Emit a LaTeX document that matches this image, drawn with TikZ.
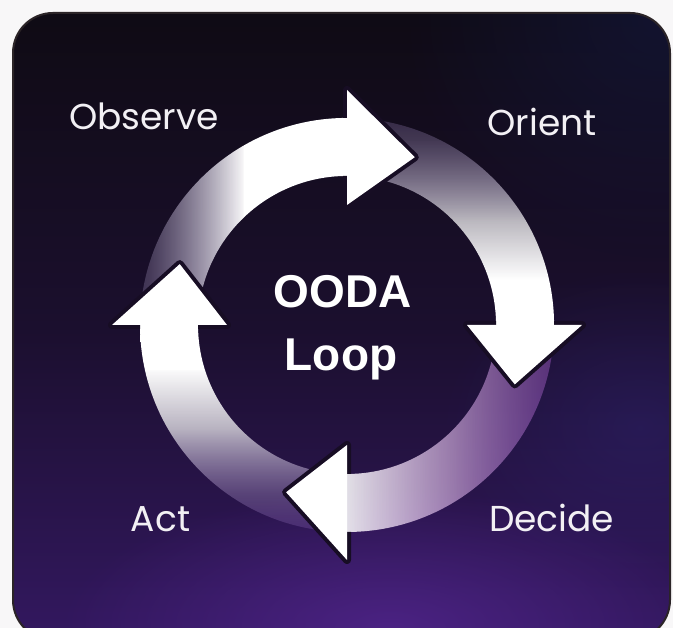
\documentclass[tikz,border=0pt]{standalone}
\usepackage{fontspec}
\usetikzlibrary{fadings}
\newfontfamily\lblfont{Poppins}
\newfontfamily\ttlfont{Liberation Sans}
\definecolor{pagec}{HTML}{F8F7F8}
\definecolor{borderc}{HTML}{2B2427}
\definecolor{bgTop}{HTML}{0F0B14}
\definecolor{bgMid}{HTML}{1B0F2E}
\definecolor{bgBot}{HTML}{331860}
\definecolor{glowc}{HTML}{5C2A9C}
\definecolor{navyc}{HTML}{151A44}
\definecolor{bluec}{HTML}{2E2470}
\definecolor{holec}{HTML}{170D24}
\definecolor{lavA}{HTML}{A898C4}
\definecolor{lavB}{HTML}{9C84C0}
\definecolor{magB}{HTML}{A85CCC}
\definecolor{midB}{HTML}{DDB8E8}
\definecolor{purL}{HTML}{8A64B8}
\definecolor{labelc}{HTML}{F2F0F4}

\tikzfading[name=radglow, inner color=transparent!0, outer color=transparent!100]

\begin{tikzfadingfrompicture}[name=fadeTop]
  \shade[left color=transparent!96, right color=transparent!70] (-50bp,-50bp) rectangle (-22bp,50bp);
  \shade[left color=transparent!70, right color=transparent!0] (-22.5bp,-50bp) rectangle (1bp,50bp);
  \fill[transparent!0] (0bp,-50bp) rectangle (50bp,50bp);
\end{tikzfadingfrompicture}
\begin{tikzfadingfrompicture}[name=fadeRight]
  \fill[transparent!0] (-50bp,-50bp) rectangle (50bp,-13bp);
  \shade[bottom color=transparent!0, top color=transparent!70] (-50bp,-14bp) rectangle (50bp,20bp);
  \shade[bottom color=transparent!70, top color=transparent!95] (-50bp,19.5bp) rectangle (50bp,50bp);
\end{tikzfadingfrompicture}
\begin{tikzfadingfrompicture}[name=fadeBottom]
  \fill[transparent!0] (-50bp,-50bp) rectangle (-39bp,50bp);
  \shade[left color=transparent!0, right color=transparent!82] (-40bp,-50bp) rectangle (50bp,50bp);
\end{tikzfadingfrompicture}
\begin{tikzfadingfrompicture}[name=fadeLeft]
  \shade[bottom color=transparent!95, top color=transparent!65] (-50bp,-50bp) rectangle (50bp,-15bp);
  \shade[bottom color=transparent!65, top color=transparent!0] (-50bp,-15.5bp) rectangle (50bp,15bp);
  \fill[transparent!0] (-50bp,14bp) rectangle (50bp,50bp);
\end{tikzfadingfrompicture}

\newcommand\oodahead[3]{% base angle, tip angle, tip radius
  \draw[headline] (#1:207) -- (#1:235) -- (#2:#3) -- (#1:120) -- (#1:149);
  \fill[headfill] (#1:120) -- (#1:235) -- (#2:#3) -- cycle;}
\newcommand\oodabody[2]{% start angle, end angle
  (#1:207) arc[start angle=#1, end angle=#2, radius=207] -- (#2:149) arc[start angle=#2, end angle=#1, radius=149] -- cycle}

\begin{document}
\begin{tikzpicture}[x=1pt,y=1pt,
  lbl/.style={text=labelc, font=\lblfont\fontsize{36}{40}\selectfont, anchor=base, inner sep=0pt},
  ttl/.style={text=white, font=\ttlfont\bfseries\fontsize{46}{50}\selectfont, anchor=base, inner sep=0pt},
  headline/.style={draw=holec, line width=8pt, line join=round},
  headfill/.style={fill=white},
  card/.style={rounded corners=40pt}]
\useasboundingbox (0,0) rectangle (673,628);
\clip (0,0) rectangle (673,628);
\fill[pagec] (0,0) rectangle (673,628);
% card background
\begin{scope}
  \clip[card] (13,-12) rectangle (670,615);
  \shade[top color=bgTop, bottom color=bgBot, middle color=bgMid] (13,-12) rectangle (670,615);
  \fill[navyc, path fading=radglow, fill opacity=.55] (660,610) ellipse [x radius=260, y radius=240];
  \fill[bluec, path fading=radglow, fill opacity=.45] (640,200) ellipse [x radius=200, y radius=160];
  \fill[glowc, path fading=radglow, fill opacity=.6] (390,0) ellipse [x radius=330, y radius=140];
\end{scope}
\draw[borderc, line width=2pt, card] (13,-12) rectangle (670,615);
% arrows
\begin{scope}[shift={(347,303)}]
  \shade[path fading=fadeTop, left color=lavA, right color=white, middle color=white] \oodabody{178}{90};
  \shade[path fading=fadeRight, top color=lavB, bottom color=white, middle color=white] \oodabody{88}{0};
  \shade[path fading=fadeBottom, left color=white, right color=magB, middle color=midB] \oodabody{-2}{-90};
  \shade[path fading=fadeLeft, bottom color=purL, top color=white, middle color=white] \oodabody{-92}{-180};
  \oodahead{90}{68}{181}
  \oodahead{0}{-19.5}{178}
  \oodahead{-90}{-110}{178}
  \oodahead{180}{160}{178}
\end{scope}
% labels
\node[lbl] (observe) at (144,498.5) {Observe};
\node[lbl] (orient) at (542,492) {Orient};
\node[lbl] (act) at (160.5,96.3) {Act};
\node[lbl] (decide) at (551.7,96.3) {Decide};
\node[ttl] (ooda) at (342.5,320) {OODA};
\node[ttl] (loop) at (341,257) {Loop};
\end{tikzpicture}
\end{document}
